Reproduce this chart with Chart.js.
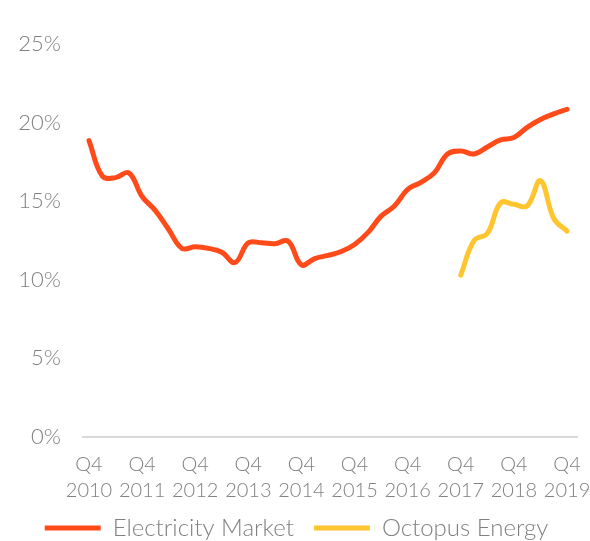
<!DOCTYPE html>
<html>
<head>
<meta charset="utf-8">
<script src="https://cdn.jsdelivr.net/npm/chart.js@4"></script>
<style>
  html, body { margin: 0; padding: 0; background: #fff; }
  #wrap { width: 590px; height: 541px; }
</style>
</head>
<body>
<div id="wrap"><canvas id="chart"></canvas></div>
<script>
// quarterly, Q4 2010 .. Q4 2019
const tickLabels = ['2010', '2011', '2012', '2013', '2014', '2015', '2016', '2017', '2018', '2019'];

const electricityMarket = [
  18.85, 16.6, 16.5, 16.8, 15.3, 14.4, 13.2, 12.0, 12.1, 12.0,
  11.75, 11.1, 12.35, 12.35, 12.3, 12.45, 10.95, 11.35, 11.55, 11.8,
  12.25, 13.0, 14.05, 14.7, 15.75, 16.2, 16.8, 18.0, 18.2, 18.0,
  18.45, 18.9, 19.05, 19.7, 20.2, 20.55, 20.85
];

// Octopus series starts at Q4 2017 (index 28)
const octopusStart = 28;
const octopusEnergy = [10.3, 12.5, 12.95, 14.9, 14.8, 14.7, 16.3, 13.9, 13.1];

const red = '#ff4a1a';
const yellow = '#ffc52e';
const grey = '#808080';

const toPoints = (vals, start) => vals.map((v, i) => ({ x: start + i, y: v }));

Chart.defaults.font.family = 'Lato';
Chart.defaults.font.weight = 300;
Chart.defaults.color = grey;

new Chart(document.getElementById('chart'), {
  type: 'line',
  data: {
    datasets: [
      {
        label: 'Electricity Market',
        data: toPoints(electricityMarket, 0),
        borderColor: red,
        backgroundColor: red,
        borderWidth: 5,
        borderCapStyle: 'round',
        pointRadius: 0,
        tension: 0.4
      },
      {
        label: 'Octopus Energy',
        data: toPoints(octopusEnergy, octopusStart),
        borderColor: yellow,
        backgroundColor: yellow,
        borderWidth: 5,
        borderCapStyle: 'round',
        pointRadius: 0,
        tension: 0.4
      }
    ]
  },
  options: {
    responsive: true,
    maintainAspectRatio: false,
    animation: false,
    layout: { padding: { left: 16, right: 13, top: 44, bottom: -9 } },
    plugins: {
      legend: {
        position: 'bottom',
        labels: {
          usePointStyle: true,
          pointStyle: 'line',
          pointStyleWidth: 56,
          padding: 20,
          font: { size: 24, lineHeight: 1 },
          color: grey
        }
      },
      tooltip: { enabled: false }
    },
    scales: {
      x: {
        type: 'linear',
        min: -0.45,
        max: 36.75,
        afterBuildTicks: axis => {
          axis.ticks = tickLabels.map((_, i) => ({ value: i * 4 }));
        },
        // let the outer labels hang over the edges like the original
        afterFit: axis => {
          axis.paddingLeft = 0;
          axis.paddingRight = 0;
          axis.height = 59;
        },
        grid: { display: false, drawTicks: false },
        border: { display: true, color: '#d9d9d9', width: 2 },
        ticks: {
          autoSkip: false,
          maxRotation: 0,
          padding: 15,
          font: { size: 20, lineHeight: 1.3 },
          callback: (v) => ['Q4', tickLabels[Math.round(v / 4)]]
        }
      },
      y: {
        min: 0,
        max: 25,
        afterFit: axis => { axis.width = 67; },
        grid: { display: false, drawTicks: false },
        border: { display: false },
        ticks: {
          stepSize: 5,
          padding: 22,
          font: { size: 22 },
          callback: v => v + '%'
        }
      }
    }
  },
  plugins: [{
    // x labels are clipped to the axis box; give them room down to the legend
    id: 'unclipXLabels',
    afterLayout(chart) {
      chart.scales.x.bottom = chart.height;
    }
  }]
});
</script>
</body>
</html>
